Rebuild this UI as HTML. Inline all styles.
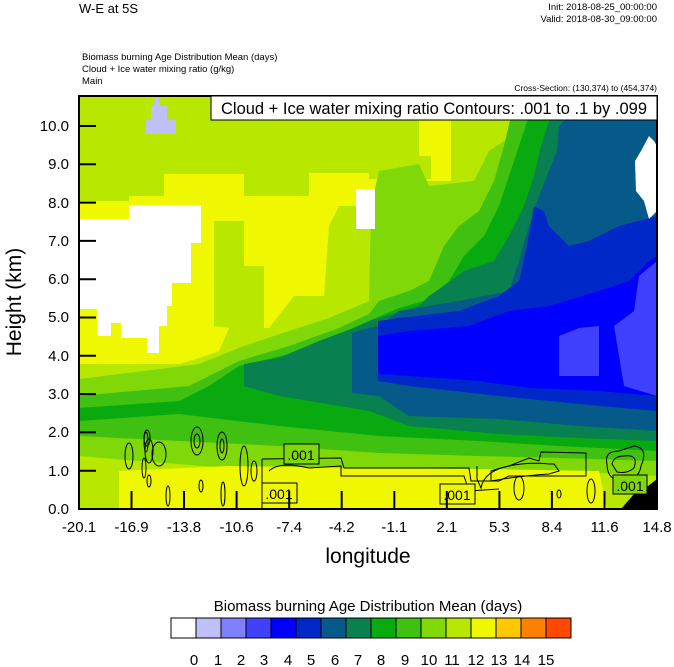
<!DOCTYPE html>
<html><head><meta charset="utf-8"><style>
html,body{margin:0;padding:0;background:#fff;}
svg{display:block;font-family:"Liberation Sans",Arial,sans-serif;}
</style></head><body>
<svg width="674" height="667" viewBox="0 0 674 667" xmlns="http://www.w3.org/2000/svg">
<text x="79" y="13" font-size="13">W-E at 5S</text>
<text x="657" y="10" font-size="9.5" text-anchor="end">Init: 2018-08-25_00:00:00</text>
<text x="657" y="22" font-size="9.5" text-anchor="end">Valid: 2018-08-30_09:00:00</text>
<text x="82" y="60" font-size="9.5">Biomass burning Age Distribution Mean   (days)</text>
<text x="82" y="72" font-size="9.5">Cloud + Ice water mixing ratio   (g/kg)</text>
<text x="82" y="84" font-size="9.5">Main</text>
<text x="657" y="91" font-size="8.5" text-anchor="end">Cross-Section: (130,374) to (454,374)</text>

<g transform="translate(79,96)">
<clipPath id="c"><rect width="578" height="413"/></clipPath>
<g clip-path="url(#c)">
<rect width="578" height="413" fill="#b8e800"/>
<polygon fill="#f0f800" points="0,105 50,105 50,100 85,100 85,78 165,78 165,100 230,100 230,77 290,77 290,83 352,83 352,60 340,60 340,23 372,23 372,85 300,85 296,110 260,110 250,130 245,200 215,200 190,232 150,232 140,255 120,262 100,268 0,268"/>
<polygon fill="#b8e800" points="135,125 165,125 165,170 185,170 185,232 150,232 135,230"/>
<polygon fill="#80d808" points="0,283 120,268 165,250 210,235 250,222 290,205 292,110 300,75 340,68 350,90 395,85 410,55 440,35 450,10 460,0 578,0 578,380 540,378 480,375 420,373 340,373 290,372 230,372 150,372 60,365 0,360"/>
<polygon fill="#40c010" points="0,300 110,290 160,265 210,250 260,232 290,218 300,205 330,195 350,185 365,150 380,130 400,115 415,85 425,50 432,20 435,0 578,0 578,365 480,362 400,360 300,357 200,350 100,345 0,340"/>
<polygon fill="#08aa10" points="0,312 100,305 130,290 160,270 210,258 260,238 290,225 320,212 345,205 370,185 385,160 405,140 420,110 430,80 440,50 450,20 455,0 578,0 578,355 480,350 400,345 300,340 200,330 100,318 0,325"/>
<polygon fill="#088050" points="165,290 165,268 200,262 240,245 275,232 290,225 340,210 350,200 365,190 385,175 415,165 430,140 445,110 455,80 462,50 470,25 480,10 485,0 578,0 578,345 500,342 420,338 330,330 290,315 200,300"/>
<polygon fill="#055a8a" points="273,237 290,232 300,230 320,215 350,210 380,205 430,195 440,165 450,130 460,100 470,75 478,55 480,30 490,20 500,0 578,0 578,335 500,330 420,323 330,320 300,300 273,297"/>
<polygon fill="#0028c8" points="299,225 320,222 380,215 420,200 440,185 448,150 455,110 465,115 470,130 480,140 490,150 510,145 540,130 578,120 578,315 500,308 420,300 330,290 299,285"/>
<polygon fill="#0000ff" points="299,240 330,235 390,230 430,215 470,210 520,195 550,185 570,165 578,160 578,300 520,295 450,292 400,285 330,280 299,278"/>
<polygon fill="#4040ff" points="480,240 500,232 520,230 520,280 480,280"/>
<polygon fill="#4040ff" points="535,230 555,215 560,180 578,165 578,300 545,290"/>
<polygon fill="#f0f800" points="40,413 40,375 150,370 290,372 400,373 520,375 528,413"/>
<polygon fill="#fff" points="0,123 50,123 50,109 122,109 122,147 112,147 112,187 93,187 93,210 88,210 88,230 80,230 80,257 68,257 68,242 42,242 42,227 32,227 32,240 18,240 18,213 0,213"/>
<rect x="277" y="93" width="19" height="40" fill="#fff"/>
<polygon fill="#fff" points="570,40 575,45 578,50 578,115 570,123 565,105 557,95 556,65 562,55"/>
<polygon fill="#c0c0f8" points="67,38 67,24 72,24 72,10 75,10 76,2 80,2 81,10 88,10 88,24 97,24 97,38"/>
<polygon fill="#000" points="542,413 556,397 569,390 578,383 578,413"/>
<g fill="none" stroke="#000" stroke-width="1">
<ellipse cx="70" cy="355" rx="4" ry="12"/><ellipse cx="68" cy="342" rx="3" ry="8"/>
<ellipse cx="67" cy="346" rx="2" ry="10"/><ellipse cx="80" cy="358" rx="7" ry="12"/>
<ellipse cx="50" cy="360" rx="4" ry="13"/><ellipse cx="65" cy="372" rx="2" ry="10"/>
<ellipse cx="89" cy="400" rx="2" ry="10"/><ellipse cx="118" cy="345" rx="6" ry="14"/>
<ellipse cx="118" cy="345" rx="3" ry="7"/><ellipse cx="143" cy="350" rx="5" ry="14"/>
<ellipse cx="143" cy="350" rx="2" ry="7"/><ellipse cx="165" cy="370" rx="4" ry="20"/>
<ellipse cx="175" cy="375" rx="3" ry="10"/><ellipse cx="144" cy="398" rx="2" ry="12"/>
<ellipse cx="122" cy="390" rx="2" ry="6"/><ellipse cx="70" cy="385" rx="2" ry="6"/>
<path d="M183,363 L183,415 M183,363 L262,362 L265,372 L390,372 L392,385 L420,385 M190,375 Q200,365 230,372 L262,370 L262,380 L385,380 L390,395 L420,393"/>
<path d="M398,370 L398,383 L402,392 Q405,375 430,370 L450,362 L460,365 L462,356 L507,357 L507,380 L430,380 L420,385"/>
<path d="M412,375 Q440,365 470,368 L475,368 L480,375 L470,378 Q440,380 412,385 Z"/>
<ellipse cx="512" cy="395" rx="4" ry="12"/>
<path d="M528,368 Q525,355 540,355 L555,350 Q570,352 562,370 Q560,385 540,385 Q528,382 528,368 Z"/>
<path d="M533,368 Q535,360 545,360 Q560,358 555,372 Q548,378 538,376 Z"/>
<ellipse cx="480" cy="398" rx="2" ry="4"/><ellipse cx="440" cy="392" rx="5" ry="12"/>
</g>
<g font-size="14" text-anchor="middle">
<rect x="205" y="348" width="35" height="20" fill="#80d808" stroke="#000"/><text x="222" y="364">.001</text>
<rect x="183" y="387" width="35" height="20" fill="#f0f800" stroke="#000"/><text x="200" y="403">.001</text>
<rect x="361" y="388" width="35" height="20" fill="#f0f800" stroke="#000"/><text x="378" y="404">.001</text>
<rect x="534" y="379" width="34" height="19" fill="#80d808" stroke="#000"/><text x="551" y="395">.001</text>
</g>
</g>
<rect width="578" height="413" fill="none" stroke="#000" stroke-width="2"/>
<g stroke="#000" stroke-width="2">
<line x1="0" y1="413" x2="17" y2="413"/><line x1="0" y1="374.7" x2="17" y2="374.7"/><line x1="0" y1="336.4" x2="17" y2="336.4"/><line x1="0" y1="298.1" x2="17" y2="298.1"/><line x1="0" y1="259.8" x2="17" y2="259.8"/><line x1="0" y1="221.5" x2="17" y2="221.5"/><line x1="0" y1="183.2" x2="17" y2="183.2"/><line x1="0" y1="144.9" x2="17" y2="144.9"/><line x1="0" y1="106.6" x2="17" y2="106.6"/><line x1="0" y1="68.3" x2="17" y2="68.3"/><line x1="0" y1="30" x2="17" y2="30"/>
<line x1="52.5" y1="413" x2="52.5" y2="395"/><line x1="105" y1="413" x2="105" y2="395"/><line x1="157.6" y1="413" x2="157.6" y2="395"/><line x1="210.2" y1="413" x2="210.2" y2="395"/><line x1="262.7" y1="413" x2="262.7" y2="395"/><line x1="315.3" y1="413" x2="315.3" y2="395"/><line x1="367.8" y1="413" x2="367.8" y2="395"/><line x1="420.4" y1="413" x2="420.4" y2="395"/><line x1="472.9" y1="413" x2="472.9" y2="395"/><line x1="525.5" y1="413" x2="525.5" y2="395"/>
</g>
<rect x="132" y="0" width="446" height="24" fill="#fff" stroke="#000" stroke-width="1"/>
<text x="355" y="18" font-size="16.5" text-anchor="middle">Cloud + Ice water mixing ratio Contours: .001 to .1 by .099</text>
</g>

<g font-size="15" text-anchor="end">
<text x="69" y="514">0.0</text><text x="69" y="476">1.0</text><text x="69" y="437">2.0</text><text x="69" y="399">3.0</text><text x="69" y="361">4.0</text><text x="69" y="322">5.0</text><text x="69" y="284">6.0</text><text x="69" y="246">7.0</text><text x="69" y="208">8.0</text><text x="69" y="169">9.0</text><text x="69" y="131">10.0</text>
</g>
<g font-size="15" text-anchor="middle">
<text x="79" y="532">-20.1</text><text x="131.5" y="532">-16.9</text><text x="184" y="532">-13.8</text><text x="236.6" y="532">-10.6</text><text x="289.2" y="532">-7.4</text><text x="341.7" y="532">-4.2</text><text x="394.3" y="532">-1.1</text><text x="446.8" y="532">2.1</text><text x="499.4" y="532">5.3</text><text x="551.9" y="532">8.4</text><text x="604.5" y="532">11.6</text><text x="657" y="532">14.8</text>
</g>
<text x="368" y="563" font-size="21" text-anchor="middle">longitude</text>
<text transform="translate(21,302) rotate(-90)" font-size="21" text-anchor="middle">Height (km)</text>

<text x="368" y="611" font-size="15" text-anchor="middle">Biomass burning Age Distribution Mean  (days)</text>
<g stroke="#000" stroke-width="1">
<rect x="171" y="618" width="25" height="20" fill="#fefefe"/>
<rect x="196" y="618" width="25" height="20" fill="#c0c0f8"/>
<rect x="221" y="618" width="25" height="20" fill="#8080ff"/>
<rect x="246" y="618" width="25" height="20" fill="#4040ff"/>
<rect x="271" y="618" width="25" height="20" fill="#0000ff"/>
<rect x="296" y="618" width="25" height="20" fill="#0028c8"/>
<rect x="321" y="618" width="25" height="20" fill="#055a8a"/>
<rect x="346" y="618" width="25" height="20" fill="#088050"/>
<rect x="371" y="618" width="25" height="20" fill="#08aa10"/>
<rect x="396" y="618" width="25" height="20" fill="#40c010"/>
<rect x="421" y="618" width="25" height="20" fill="#80d808"/>
<rect x="446" y="618" width="25" height="20" fill="#b8e800"/>
<rect x="471" y="618" width="25" height="20" fill="#f0f800"/>
<rect x="496" y="618" width="25" height="20" fill="#ffc800"/>
<rect x="521" y="618" width="25" height="20" fill="#ff8000"/>
<rect x="546" y="618" width="25" height="20" fill="#ff4800"/>
</g>
<rect x="171" y="618" width="400" height="20" fill="none" stroke="#000"/>
<g font-size="15" text-anchor="middle">
<text x="194" y="665">0</text><text x="218" y="665">1</text><text x="241" y="665">2</text><text x="264" y="665">3</text><text x="288" y="665">4</text><text x="311" y="665">5</text><text x="335" y="665">6</text><text x="358" y="665">7</text><text x="381" y="665">8</text><text x="405" y="665">9</text><text x="429" y="665">10</text><text x="452" y="665">11</text><text x="476" y="665">12</text><text x="499" y="665">13</text><text x="522" y="665">14</text><text x="546" y="665">15</text>
</g>
</svg>
</body></html>
